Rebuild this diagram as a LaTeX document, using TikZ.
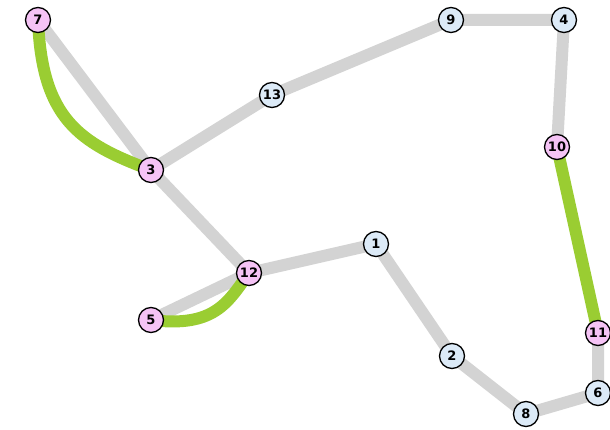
\documentclass[tikz,border=0pt]{standalone}
\usepackage{fontspec}
\setmainfont{DejaVu Sans}
\usetikzlibrary{backgrounds}
\definecolor{pinkn}{HTML}{F5C3F5}
\definecolor{bluen}{HTML}{DCEAF7}
\definecolor{edgegray}{HTML}{D3D3D3}
\definecolor{ygreen}{HTML}{9ACD32}
\tikzset{
  vtx/.style={circle,draw=black,line width=1.3pt,minimum size=25pt,inner sep=0pt,font=\fontsize{13}{13}\selectfont\bfseries},
  pk/.style={vtx,fill=pinkn},
  bl/.style={vtx,fill=bluen},
  ge/.style={draw=edgegray,line width=12pt},
  gr/.style={draw=ygreen,line width=12pt,line cap=round},
}
\begin{document}
\begin{tikzpicture}[x=1pt,y=-1pt]
\useasboundingbox (0,0) rectangle (610,430);
\clip (0,0) rectangle (610,430);
\node[pk] (n7) at (38,20) {7};
\node[bl] (n9) at (451,20) {9};
\node[bl] (n4) at (564,20) {4};
\node[bl] (n13) at (272,95) {13};
\node[pk] (n10) at (557,147) {10};
\node[pk] (n3) at (151,170) {3};
\node[bl] (n1) at (376,244) {1};
\node[pk] (n12) at (249,273) {12};
\node[pk] (n5) at (151,320) {5};
\node[pk] (n11) at (598,333) {11};
\node[bl] (n2) at (452,356) {2};
\node[bl] (n6) at (598,393) {6};
\node[bl] (n8) at (526,414) {8};
\begin{scope}[on background layer]
\path[ge] (n7.center) -- (n3.center);
\path[ge] (n3.center) -- (n13.center) -- (n9.center) -- (n4.center) -- (n10.center);
\path[ge] (n3.center) -- (n12.center) -- (n1.center) -- (n2.center) -- (n8.center) -- (n6.center) -- (n11.center);
\path[ge] (n12.center) -- (n5.center);
\path[gr] (n10.center) -- (n11.center);
\path[gr] (n7.center) .. controls (42,118) and (78,143) .. (n3.center);
\path[gr] (n5.center) .. controls (215,328) and (228,302) .. (n12.center);
\end{scope}
\end{tikzpicture}
\end{document}
